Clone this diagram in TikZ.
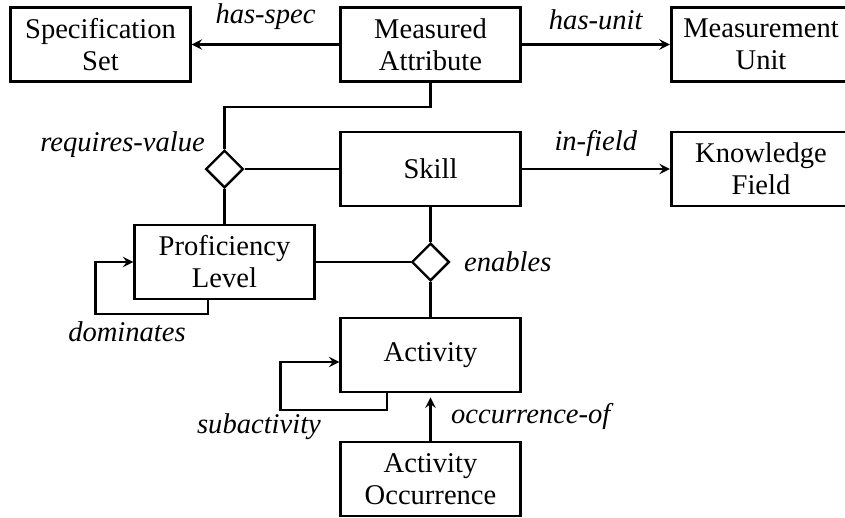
\documentclass[tikz,border=0pt]{standalone}
\usepackage{fontspec}
\setmainfont{Liberation Serif}
\usetikzlibrary{shapes.geometric,calc}
\begin{document}
\begin{tikzpicture}[x=0.385pt,y=-0.385pt,>=stealth,font=\fontsize{11}{12.3}\selectfont,
        entity/.style={draw,line width=1.1pt,minimum width=69pt,minimum height=28.5pt,align=center,inner sep=1pt},
        relation/.style={draw,diamond,line width=0.9pt,minimum size=14.5pt,inner sep=0pt},
        role/.style={font=\fontsize{11}{12.3}\selectfont\itshape},
        link/.style={line width=0.8pt}]
    \useasboundingbox (0,0) rectangle (845,517);
    \node[entity] (spec) at (100.5,44.5) {Specification\\Set};
    \node[entity] (attr) at (430.5,44.5) {Measured\\Attribute};
    \node[entity] (unit) at (761,44.5) {Measurement\\Unit};
    \node[entity] (skill) at (430.5,169) {Skill};
    \node[entity] (field) at (761,169) {Knowledge\\Field};
    \node[entity] (prof) at (224.5,262) {Proficiency\\Level};
    \node[entity] (act) at (430.5,355) {Activity};
    \node[entity] (occ) at (430.5,479) {Activity\\Occurrence};
    \node[relation] (rv) at (224.5,169) {};
    \node[relation] (en) at (430.5,262) {};
    \draw[->,link] (attr) -- node[role,above=2pt] (hasspec) {has-spec} (spec);
    \draw[->,link] (attr) -- node[role,above=2pt] (hasunit) {has-unit} (unit);
    \draw[->,link] (skill) -- node[role,above=1pt] (infield) {in-field} (field);
    \draw[link] (attr.south) -- ++(0,24) -| (rv.north);
    \draw[link] (rv) -- (skill);
    \draw[link] (rv) -- (prof);
    \node[role,anchor=east] (rvlab) at (214,145) {requires-value};
    \draw[link] (skill) -- (en);
    \draw[link] (en) -- (act);
    \draw[link] (prof) -- (en);
    \node[role,anchor=west] (enlab) at (455,262) {enables};
    \draw[->,link] ($(prof.south)+(-16.5,0)$) -- ++(0,14) -| ($(prof.west)+(-38,0)$) -- (prof.west);
    \node[role] (domlab) at (127,332) {dominates};
    \draw[->,link] ($(act.south)+(-43.5,0)$) -- ++(0,17) -| ($(act.west)+(-59,7)$) -- ($(act.west)+(0,7)$);
    \node[role] (sublab) at (259,427) {subactivity};
    \draw[->,link,shorten >=1.5pt] (occ) -- (act);
    \node[role,anchor=west] (occlab) at (442,416) {occurrence-of};
\end{tikzpicture}
\end{document}
